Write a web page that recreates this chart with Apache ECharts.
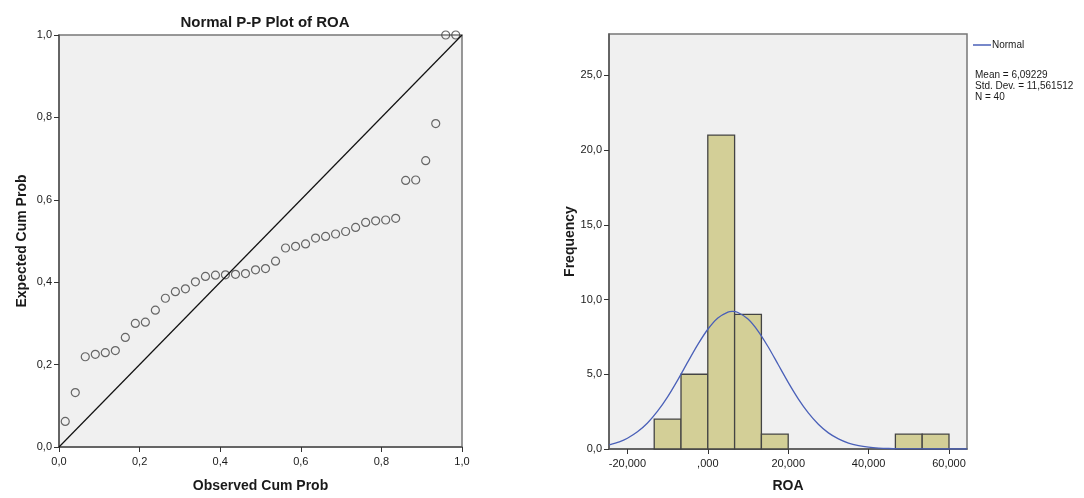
<!DOCTYPE html>
<html>
<head>
<meta charset="utf-8">
<script src="https://cdn.jsdelivr.net/npm/echarts@6/dist/echarts.min.js"></script>
<style>
  html, body { margin: 0; padding: 0; background: #fff; }
  #chart { width: 1084px; height: 498px; }
</style>
</head>
<body>
<div id="chart"></div>
<script>
// P-P plot: observed vs expected cumulative probability (40 cases)
var observedCum = [0.0155, 0.0404, 0.0652, 0.0901, 0.1149, 0.1398, 0.1646, 0.1894, 0.2143, 0.2391,
  0.2640, 0.2888, 0.3137, 0.3385, 0.3634, 0.3882, 0.4130, 0.4379, 0.4627, 0.4876,
  0.5124, 0.5373, 0.5621, 0.5870, 0.6118, 0.6366, 0.6615, 0.6863, 0.7112, 0.7360,
  0.7609, 0.7857, 0.8106, 0.8354, 0.8602, 0.8851, 0.9099, 0.9348, 0.9596, 0.9845];
var expectedCum = [0.062, 0.132, 0.219, 0.225, 0.229, 0.234, 0.266, 0.300, 0.303, 0.332,
  0.361, 0.377, 0.384, 0.401, 0.414, 0.417, 0.418, 0.419, 0.421, 0.430,
  0.433, 0.451, 0.483, 0.487, 0.493, 0.507, 0.511, 0.517, 0.523, 0.533,
  0.545, 0.549, 0.551, 0.555, 0.647, 0.648, 0.695, 0.785, 1.000, 1.000];

// histogram of ROA
var binStart = [-13.333, -6.667, 0, 6.667, 13.333, 46.667, 53.333];
var binEnd = [-6.667, 0, 6.667, 13.333, 20, 53.333, 60];
var binCount = [2, 5, 21, 9, 1, 1, 1];
var roaTicks = [-20, 0, 20, 40, 60];
var freqTicks = [0, 5, 10, 15, 20, 25];

// normal curve
var curveX = [-24.5, -22, -20, -17.5, -15, -12.5, -10, -7.5, -5, -2.5, 0, 2.5, 5, 6.1, 7.5, 10,
  12.5, 15, 17.5, 20, 22.5, 25, 27.5, 30, 32.5, 35, 37.5, 40, 42.5, 45, 47.5, 50, 55, 60, 64.5];
var curveY = [0.28, 0.48, 0.72, 1.15, 1.74, 2.53, 3.49, 4.61, 5.81, 6.98, 8.01, 8.77, 9.16, 9.20, 9.13, 8.69,
  7.89, 6.84, 5.65, 4.46, 3.36, 2.42, 1.66, 1.08, 0.68, 0.40, 0.23, 0.125, 0.065, 0.032, 0.015, 0.007, 0.001, 0, 0];

var statsText = ['Mean = 6,09229', 'Std. Dev. = 11,561512', 'N = 40'];

var ppData = observedCum.map(function (x, i) { return [x, expectedCum[i]]; });
var histData = binStart.map(function (s, i) { return [s, binEnd[i], binCount[i]]; });
var curveData = curveX.map(function (x, i) { return [x, curveY[i]]; });

var font = 'Liberation Sans, Arial, sans-serif';
var axisLineStyle = { color: '#555', width: 1.5 };

function comma1(v) { return v.toFixed(1).replace('.', ','); }
function comma3(v) {
  if (v === 0) return ',000';
  return v.toFixed(3).replace('.', ',');
}

var dom = document.getElementById('chart');
var myChart = echarts.init(dom, null, { renderer: 'canvas' });

var option = {
  animation: false,
  title: {
    text: 'Normal P-P Plot of ROA',
    left: 260, top: 10, textAlign: 'center',
    textStyle: { fontFamily: font, fontSize: 15, fontWeight: 'bold', color: '#1a1a1a' }
  },
  legend: {
    left: 968, top: 35,
    data: [{ name: 'Normal', icon: 'rect' }],
    itemWidth: 18, itemHeight: 1.5, itemGap: 2,
    textStyle: { fontFamily: font, fontSize: 10, color: '#1a1a1a', padding: [0, 0, 0, -4] }
  },
  graphic: [{
    type: 'text', left: 975, top: 70,
    style: { text: statsText.join('\n'), font: '10px ' + font, fill: '#1a1a1a', lineHeight: 11 }
  }],
  grid: [
    { left: 59, top: 35, width: 403, height: 416, show: true, backgroundColor: '#f0f0f0', borderColor: '#777', borderWidth: 1.5 },
    { left: 609, top: 34, width: 358, height: 422, show: true, backgroundColor: '#f0f0f0', borderColor: '#777', borderWidth: 1.5 }
  ],
  xAxis: [
    {
      gridIndex: 0, type: 'value', min: 0, max: 1, interval: 0.2,
      name: 'Observed Cum Prob', nameLocation: 'middle', nameGap: 32,
      nameTextStyle: { fontFamily: font, fontSize: 14, fontWeight: 'bold', color: '#1a1a1a' },
      axisLine: { onZero: false, lineStyle: axisLineStyle },
      axisTick: { inside: false, length: 5, lineStyle: { color: '#333' } },
      axisLabel: { fontFamily: font, fontSize: 11, color: '#1a1a1a', margin: 9, formatter: comma1 },
      splitLine: { show: false }
    },
    {
      gridIndex: 1, type: 'value', min: -24.58, max: 64.48,
      name: 'ROA', nameLocation: 'middle', nameGap: 30,
      nameTextStyle: { fontFamily: font, fontSize: 14, fontWeight: 'bold', color: '#1a1a1a' },
      axisLine: { onZero: false, lineStyle: axisLineStyle },
      axisTick: { inside: false, length: 5, lineStyle: { color: '#333' }, customValues: roaTicks },
      axisLabel: { fontFamily: font, fontSize: 11, color: '#1a1a1a', margin: 9, customValues: roaTicks, formatter: comma3 },
      splitLine: { show: false }
    }
  ],
  yAxis: [
    {
      gridIndex: 0, type: 'value', min: 0, max: 1, interval: 0.2,
      name: 'Expected Cum Prob', nameLocation: 'middle', nameGap: 30,
      nameTextStyle: { fontFamily: font, fontSize: 14, fontWeight: 'bold', color: '#1a1a1a' },
      axisLine: { onZero: false, lineStyle: axisLineStyle },
      axisTick: { inside: false, length: 5, lineStyle: { color: '#333' } },
      axisLabel: { fontFamily: font, fontSize: 11, color: '#1a1a1a', margin: 7, formatter: comma1 },
      splitLine: { show: false }
    },
    {
      gridIndex: 1, type: 'value', min: 0, max: 27.76,
      name: 'Frequency', nameLocation: 'middle', nameGap: 32,
      nameTextStyle: { fontFamily: font, fontSize: 14, fontWeight: 'bold', color: '#1a1a1a' },
      axisLine: { onZero: false, lineStyle: axisLineStyle },
      axisTick: { inside: false, length: 5, lineStyle: { color: '#333' }, customValues: freqTicks },
      axisLabel: { fontFamily: font, fontSize: 11, color: '#1a1a1a', margin: 7, customValues: freqTicks, formatter: comma1 },
      splitLine: { show: false }
    }
  ],
  series: [
    {
      type: 'line', xAxisIndex: 0, yAxisIndex: 0,
      data: [[0, 0], [1, 1]], symbol: 'none',
      lineStyle: { color: '#111', width: 1.2 }, silent: true
    },
    {
      type: 'scatter', xAxisIndex: 0, yAxisIndex: 0,
      data: ppData, symbol: 'circle', symbolSize: 8,
      itemStyle: { color: 'rgba(0,0,0,0)', borderColor: '#444', borderWidth: 1.2 }
    },
    {
      type: 'custom', xAxisIndex: 1, yAxisIndex: 1,
      data: histData,
      renderItem: function (params, api) {
        var p0 = api.coord([api.value(0), api.value(2)]);
        var p1 = api.coord([api.value(1), 0]);
        return {
          type: 'rect',
          shape: { x: p0[0], y: p0[1], width: p1[0] - p0[0], height: p1[1] - p0[1] },
          style: { fill: '#d3cf97', stroke: '#444', lineWidth: 1.3 }
        };
      }
    },
    {
      name: 'Normal', type: 'line', xAxisIndex: 1, yAxisIndex: 1,
      data: curveData, smooth: 0.3, symbol: 'none',
      lineStyle: { color: '#4a60b8', width: 1.3 }, itemStyle: { color: '#4a60b8' }
    }
  ]
};

myChart.setOption(option);
</script>
</body>
</html>
